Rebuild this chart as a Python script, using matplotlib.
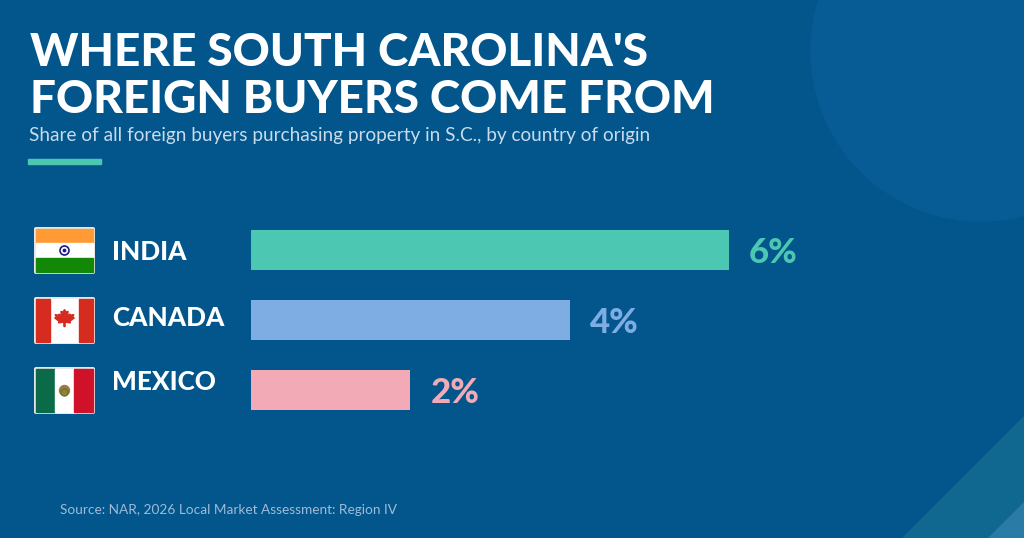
import numpy as np
import matplotlib
matplotlib.use("Agg")
import matplotlib.pyplot as plt
from matplotlib.patches import Rectangle, Circle, Polygon, FancyBboxPatch
import matplotlib.transforms as mtransforms

# data
countries = ["INDIA", "CANADA", "MEXICO"]
shares = [6, 4, 2]
value_labels = ["6%", "4%", "2%"]
bar_colors = ["#4bc7b2", "#7eade4", "#f2aab7"]

title_lines = ["WHERE SOUTH CAROLINA'S", "FOREIGN BUYERS COME FROM"]
subtitle = "Share of all foreign buyers purchasing property in S.C., by country of origin"
source = "Source: NAR, 2026 Local Market Assessment: Region IV"

BG = "#02568b"
W, H = 1024, 538
FONT = ["Lato", "DejaVu Sans"]

fig = plt.figure(figsize=(W / 100, H / 100), dpi=100, facecolor=BG)

# background layer in pixel coordinates
bg = fig.add_axes([0, 0, 1, 1])
bg.set_xlim(0, W)
bg.set_ylim(H, 0)
bg.axis("off")
bg.add_patch(Rectangle((0, 0), W, H, color=BG, zorder=0))
bg.add_patch(Circle((981, 51), 170, color="#075c96", zorder=1))
bg.add_patch(Polygon([(903, 538), (1024, 417), (1024, 538)], color="#106891", zorder=1))
bg.add_patch(Polygon([(989, 538), (1024, 503), (1024, 538)], color="#2b7ba7", zorder=2))

# title block
for txt, base in zip(title_lines, [66, 113]):
    bg.text(30, base, txt, color="white", fontsize=33, fontweight="black",
            family=FONT, va="baseline", ha="left", zorder=5)
bg.text(29, 141, subtitle, color="#c8dbee", fontsize=13.7, family=FONT,
        va="baseline", ha="left", zorder=5)
bg.add_patch(Rectangle((28, 159), 73, 5, color="#4bc7b2", zorder=5))
bg.text(60, 514, source, color="#9ebbd9", fontsize=9.8, family=FONT,
        va="baseline", ha="left", zorder=5)

# bars
x0_px, px_per_pct = 251, 79.7
row_top, row_h = 215, 70
ax = fig.add_axes([x0_px / W, 1 - (row_top + row_h * 3) / H,
                   px_per_pct * 8 / W, row_h * 3 / H])
ax.patch.set_alpha(0)
ax.set_xlim(0, 8)
ax.set_ylim(2.5, -0.5)
ax.axis("off")
ypos = np.arange(len(countries))
ax.barh(ypos, shares, height=40 / row_h, color=bar_colors, zorder=3)

for i, (v, lab, c) in enumerate(zip(shares, value_labels, bar_colors)):
    tr = mtransforms.offset_copy(ax.transData, fig=fig, x=20, y=-13, units="dots")
    ax.text(v, i, lab, transform=tr, color=c, fontsize=25, fontweight="black",
            family=FONT, va="baseline", ha="left")


def flag_india(cx, cy, w, h):
    x, y = cx - w / 2, cy - h / 2
    bg.add_patch(Rectangle((x, y), w, h / 3, color="#ff9a35", zorder=4))
    bg.add_patch(Rectangle((x, y + h / 3), w, h / 3, color="white", zorder=4))
    bg.add_patch(Rectangle((x, y + 2 * h / 3), w, h / 3, color="#138808", zorder=4))
    bg.add_patch(Circle((cx, cy), 4.5, facecolor="none", edgecolor="#1b1b8a", lw=1.2, zorder=5))
    bg.add_patch(Circle((cx, cy), 1.2, color="#1b1b8a", zorder=5))


def flag_canada(cx, cy, w, h):
    x, y = cx - w / 2, cy - h / 2
    bg.add_patch(Rectangle((x, y), w, h, color="white", zorder=4))
    bg.add_patch(Rectangle((x, y), w / 4, h, color="#d62b1f", zorder=4))
    bg.add_patch(Rectangle((x + 3 * w / 4, y), w / 4, h, color="#d62b1f", zorder=4))
    leaf = np.array([(0, 1), (0.12, 0.78), (0.3, 0.85), (0.24, 0.45), (0.45, 0.62),
                     (0.5, 0.52), (0.78, 0.58), (0.68, 0.35), (0.82, 0.3), (0.45, 0.02),
                     (0.5, -0.12), (0.05, -0.05), (0.05, -0.42), (-0.05, -0.42),
                     (-0.05, -0.05), (-0.5, -0.12), (-0.45, 0.02), (-0.82, 0.3),
                     (-0.68, 0.35), (-0.78, 0.58), (-0.5, 0.52), (-0.45, 0.62),
                     (-0.24, 0.45), (-0.3, 0.85), (-0.12, 0.78)])
    s = 12
    pts = np.column_stack([cx + leaf[:, 0] * s, cy - leaf[:, 1] * s + 1])
    bg.add_patch(Polygon(pts, color="#d62b1f", zorder=5))


def flag_mexico(cx, cy, w, h):
    x, y = cx - w / 2, cy - h / 2
    bg.add_patch(Rectangle((x, y), w / 3, h, color="#0b6a47", zorder=4))
    bg.add_patch(Rectangle((x + w / 3, y), w / 3, h, color="white", zorder=4))
    bg.add_patch(Rectangle((x + 2 * w / 3, y), w / 3, h, color="#cf1229", zorder=4))
    bg.add_patch(Circle((cx, cy), 5, color="#a5773a", zorder=5))
    bg.add_patch(Circle((cx, cy + 2), 3.5, facecolor="none", edgecolor="#3d8a3d", lw=1, zorder=5))


flag_funcs = [flag_india, flag_canada, flag_mexico]
label_nudge = [9, 5, 0]
for i, name in enumerate(countries):
    cy = row_top + row_h * (i + 0.5) + 0.5
    fw, fh = 59, 45
    bg.add_patch(FancyBboxPatch((35 - 1, cy - fh / 2 - 1), fw + 2, fh + 2,
                                boxstyle="round,pad=0,rounding_size=2",
                                facecolor="#e6e6e6", edgecolor="none", zorder=3))
    flag_funcs[i](35 + fw / 2, cy, fw - 2, fh - 2)
    bg.text(112, cy + label_nudge[i], name, color="white", fontsize=18.8,
            fontweight="black", family=FONT, va="baseline", ha="left", zorder=5)

fig.savefig("out.png", dpi=100, facecolor=BG)
